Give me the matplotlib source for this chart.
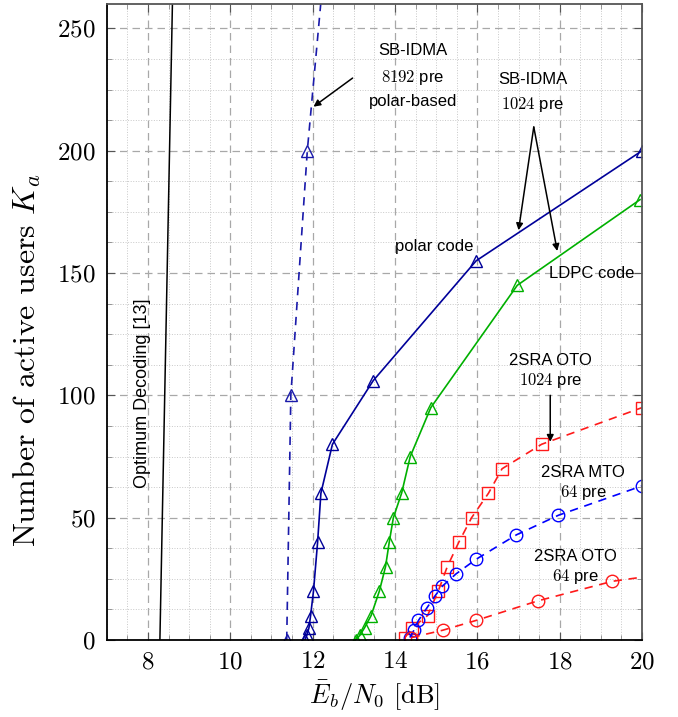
import numpy as np
import matplotlib
matplotlib.use('Agg')
import matplotlib.pyplot as plt
from matplotlib.ticker import MultipleLocator

# Data
opt_x = [8.29, 8.6]
opt_k = [0, 265]

sb8192_x = [11.37, 11.47, 11.87, 12.25]
sb8192_k = [0, 100, 200, 270]

polar_x = [11.81, 11.86, 11.91, 11.95, 12.02, 12.12, 12.2, 12.48, 13.47, 15.97, 20]
polar_k = [0, 2, 5, 10, 20, 40, 60, 80, 106, 155, 200]

ldpc_x = [13.05, 13.15, 13.26, 13.42, 13.62, 13.77, 13.86, 13.96, 14.16, 14.37, 14.87, 16.97, 19.95]
ldpc_k = [0, 2, 5, 10, 20, 30, 40, 50, 60, 75, 95, 145, 180]

oto1024_x = [14.24, 14.42, 14.79, 15.05, 15.27, 15.55, 15.86, 16.27, 16.6, 17.56, 20]
oto1024_k = [1, 5, 10, 20, 30, 40, 50, 60, 70, 80, 95]

mto64_x = [14.36, 14.46, 14.57, 14.77, 14.97, 15.15, 15.48, 15.97, 16.95, 17.97, 20]
mto64_k = [1, 4, 8, 13, 18, 22, 27, 33, 43, 51, 63]

oto64_x = [14.4, 15.16, 15.97, 17.47, 19.28, 21]
oto64_k = [1, 4, 8, 16, 24, 28]

plt.rcParams['font.family'] = 'serif'
plt.rcParams['font.serif'] = ['cmr10']
plt.rcParams['mathtext.fontset'] = 'cm'
plt.rcParams['axes.formatter.use_mathtext'] = True

fig = plt.figure(figsize=(6.78, 7.17), dpi=100)
ax = fig.add_axes([0.1575, 0.1074, 0.7895, 0.8871])

navy = '#000099'
green = '#00b000'
red = '#ff1a1a'
blue = '#0000ff'

ax.plot(opt_x, opt_k, color='black', lw=1.1)
ax.plot(sb8192_x, sb8192_k, color='#1a1aaa', lw=1.2, dashes=(5, 4), marker='^',
        ms=8, mfc='none', markevery=[0, 1, 2])
ax.plot(polar_x, polar_k, color=navy, lw=1.2, marker='^', ms=8, mfc='none')
ax.plot(ldpc_x, ldpc_k, color=green, lw=1.2, marker='^', ms=8, mfc='none')
ax.plot(oto1024_x, oto1024_k, color=red, lw=1.2, dashes=(5, 4), marker='s', ms=8.5, mfc='none')
ax.plot(mto64_x, mto64_k, color=blue, lw=1.2, dashes=(5, 4), marker='o', ms=9, mfc='none')
ax.plot(oto64_x, oto64_k, color=red, lw=1.2, dashes=(5, 4), marker='o', ms=9, mfc='none')

ax.set_xlim(7, 20)
ax.set_ylim(0, 260)
ax.xaxis.set_major_locator(MultipleLocator(2))
ax.xaxis.set_minor_locator(MultipleLocator(0.5))
ax.yaxis.set_major_locator(MultipleLocator(50))
ax.yaxis.set_minor_locator(MultipleLocator(12.5))
ax.grid(which='major', color='#a8a8a8', lw=0.9, dashes=(6, 4))
ax.grid(which='minor', color='#c8c8c8', lw=0.7, linestyle=':')
ax.set_axisbelow(True)
ax.tick_params(which='both', direction='in', top=True, right=True, labelsize=18, pad=8)
ax.tick_params(which='major', length=6, color='#555555')
ax.tick_params(which='minor', length=3.5, color='#888888')
for s in ax.spines.values():
    s.set_color('#555555')
    s.set_linewidth(1.3)
ax.spines['left'].set_color('black')
ax.spines['bottom'].set_color('black')

ax.set_xlabel(r'$\bar{E}_b/N_0$ [dB]', fontsize=19, labelpad=4)
ax.set_ylabel(r'Number of active users $K_a$', fontsize=23)
ax.yaxis.set_label_coords(-0.12, 0.44)

sans = 'Liberation Sans'
fs = 12
ax.text(7.86, 101, 'Optimum Decoding [13]', rotation=90, ha='center', va='center',
        family=sans, fontsize=13)

ax.text(14.44, 241, 'SB-IDMA', ha='center', va='center', family=sans, fontsize=fs)
ax.text(14.44, 230, r'$8192$ pre', ha='center', va='center', family=sans, fontsize=fs)
ax.text(14.44, 220, 'polar-based', ha='center', va='center', family=sans, fontsize=fs)
ax.annotate('', xy=(12.02, 218), xytext=(12.97, 229.7),
            arrowprops=dict(arrowstyle='-|>', color='black', lw=1.1, shrinkA=0, shrinkB=0))

ax.text(17.35, 229, 'SB-IDMA', ha='center', va='center', family=sans, fontsize=fs)
ax.text(17.35, 219, r'$1024$ pre', ha='center', va='center', family=sans, fontsize=fs)
ax.annotate('', xy=(17.0, 167.5), xytext=(17.37, 209.7),
            arrowprops=dict(arrowstyle='-|>', color='black', lw=1.1, shrinkA=0, shrinkB=0))
ax.annotate('', xy=(17.94, 159), xytext=(17.37, 209.7),
            arrowprops=dict(arrowstyle='-|>', color='black', lw=1.1, shrinkA=0, shrinkB=0))

ax.text(14.95, 161, 'polar code', ha='center', va='center', family=sans, fontsize=fs)
ax.text(18.77, 150, 'LDPC code', ha='center', va='center', family=sans, fontsize=fs)

ax.text(17.77, 114.4, '2SRA OTO', ha='center', va='center', family=sans, fontsize=fs)
ax.text(17.77, 106.2, r'$1024$ pre', ha='center', va='center', family=sans, fontsize=fs)
ax.annotate('', xy=(17.77, 81), xytext=(17.77, 100),
            arrowprops=dict(arrowstyle='-|>', color='black', lw=1.1, shrinkA=0, shrinkB=0))

ax.text(18.57, 68.3, '2SRA MTO', ha='center', va='center', family=sans, fontsize=fs)
ax.text(18.57, 60.2, r'$64$ pre', ha='center', va='center', family=sans, fontsize=fs)

ax.text(18.37, 34.3, '2SRA OTO', ha='center', va='center', family=sans, fontsize=fs)
ax.text(18.37, 26.1, r'$64$ pre', ha='center', va='center', family=sans, fontsize=fs)

fig.savefig('out.png', dpi=100)
